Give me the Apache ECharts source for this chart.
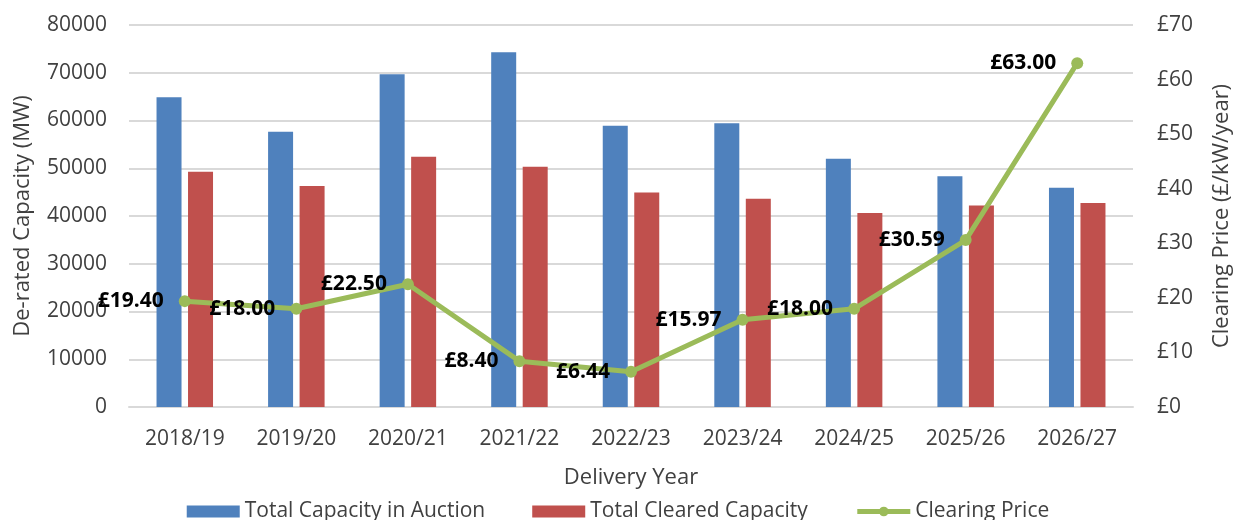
<!DOCTYPE html>
<html>
<head>
<meta charset="utf-8">
<script src="https://cdn.jsdelivr.net/npm/echarts@6/dist/echarts.min.js"></script>
<style>
  html, body { margin: 0; padding: 0; background: #fff; }
  #chart { width: 1236px; height: 520px; }
</style>
</head>
<body>
<div id="chart"></div>
<script>
// delivery years on the x axis
const years = ['2018/19', '2019/20', '2020/21', '2021/22', '2022/23', '2023/24', '2024/25', '2025/26', '2026/27']
// MW
const totalInAuction = [64850, 57650, 69700, 74300, 58900, 59450, 52000, 48300, 45900]
const totalCleared = [49250, 46300, 52400, 50300, 44900, 43600, 40650, 42200, 42700]
// £/kW/year
const clearingPrice = [19.40, 18.00, 22.50, 8.40, 6.44, 15.97, 18.00, 30.59, 63.00]

const font = 'Open Sans'
const txt = '#404040'
const green = '#9BBB59'

const chart = echarts.init(document.getElementById('chart'))
chart.setOption({
  animation: false,
  textStyle: { fontFamily: font },
  grid: { left: 129, right: 103, top: 25, bottom: 113, containLabel: false, outerBoundsMode: 'none' },
  legend: {
    top: 496,
    left: 'center',
    itemWidth: 53,
    itemHeight: 12,
    itemGap: 47,
    textStyle: { fontFamily: font, fontSize: 21, color: txt },
    data: [
      { name: 'Total Capacity in Auction', icon: 'rect' },
      { name: 'Total Cleared Capacity', icon: 'rect' },
      { name: 'Clearing Price', lineStyle: { width: 5, color: green }, itemStyle: { color: green } }
    ]
  },
  xAxis: {
    type: 'category',
    data: years,
    name: 'Delivery Year',
    nameLocation: 'middle',
    nameGap: 60,
    nameTextStyle: { fontFamily: font, fontSize: 22, color: txt },
    axisLine: { lineStyle: { color: '#d9d9d9', width: 2 } },
    axisTick: { show: false },
    axisLabel: { fontFamily: font, fontSize: 21, color: txt, margin: 22 }
  },
  yAxis: [
    {
      type: 'value',
      min: 0,
      max: 80000,
      interval: 10000,
      name: 'De-rated Capacity (MW)',
      nameLocation: 'middle',
      nameGap: 95,
      nameTextStyle: { fontFamily: font, fontSize: 22, color: txt },
      axisLine: { show: false },
      axisTick: { show: false },
      axisLabel: { fontFamily: font, fontSize: 21, color: txt, margin: 22, formatter: v => String(v) },
      splitLine: { lineStyle: { color: '#d9d9d9', width: 2 } }
    },
    {
      type: 'value',
      min: 0,
      max: 70,
      interval: 10,
      name: 'Clearing Price (£/kW/year)',
      nameLocation: 'middle',
      nameGap: 78,
      nameRotate: 90,
      nameTextStyle: { fontFamily: font, fontSize: 22, color: txt },
      axisLine: { show: false },
      axisTick: { show: false },
      axisLabel: { fontFamily: font, fontSize: 21, color: txt, margin: 24, formatter: '£{value}' },
      splitLine: { show: false }
    }
  ],
  series: [
    {
      name: 'Total Capacity in Auction',
      type: 'bar',
      data: totalInAuction,
      barWidth: 25,
      barGap: '26%',
      itemStyle: { color: '#4F81BD' }
    },
    {
      name: 'Total Cleared Capacity',
      type: 'bar',
      data: totalCleared,
      barWidth: 25,
      itemStyle: { color: '#C0504D' }
    },
    {
      name: 'Clearing Price',
      type: 'line',
      yAxisIndex: 1,
      data: clearingPrice,
      symbol: 'circle',
      symbolSize: 12,
      lineStyle: { color: green, width: 5 },
      itemStyle: { color: green },
      label: {
        show: true,
        position: 'left',
        distance: 15,
        fontFamily: font,
        fontWeight: 'bold',
        fontSize: 21,
        color: '#000',
        formatter: p => '£' + p.value.toFixed(2)
      }
    }
  ]
})
</script>
</body>
</html>
